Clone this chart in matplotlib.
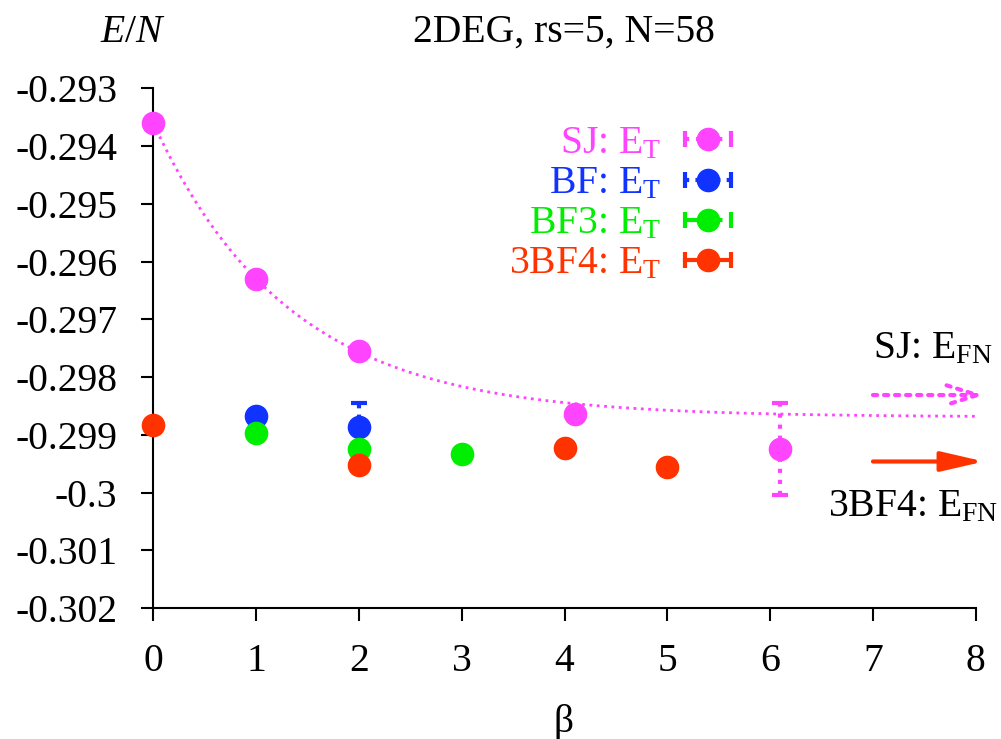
import matplotlib
matplotlib.use('Agg')
import matplotlib.pyplot as plt
import numpy as np
from matplotlib.lines import Line2D
from matplotlib.legend_handler import HandlerTuple, HandlerLine2D

plt.rcParams['font.family'] = ['Liberation Serif', 'DejaVu Serif']
plt.rcParams['mathtext.fontset'] = 'custom'
plt.rcParams['mathtext.rm'] = 'Liberation Serif'
plt.rcParams['mathtext.it'] = 'Liberation Serif:italic'
plt.rcParams['font.size'] = 28.5

# values
sj_beta = [0, 1, 2, 4.1, 6.1]
sj_e = [-0.293606, -0.29630, -0.297545, -0.29864, -0.29924]
sj_err = [0.00001, 0.00001, 0.00002, 0.00003, 0.0008]

bf_beta = [1, 2]
bf_e = [-0.29867, -0.298855]
bf_err = [0.00002, 0.0004]

bf3_beta = [1, 2, 3]
bf3_e = [-0.298969, -0.29924, -0.299327]
bf3_err = [0.00002, 0.00002, 0.00003]

bf4_beta = [0, 2, 4, 5]
bf4_e = [-0.298825, -0.299529, -0.299228, -0.299557]
bf4_err = [0.00002, 0.00002, 0.00002, 0.00002]

# fixed-node energies (arrows)
sj_efn = -0.29831
bf4_efn = -0.29946

# exponential fit of SJ data: a + b*exp(-c*beta)
fit_a, fit_b, fit_c = -0.29869, 0.005084, 0.7548

yticks = [-0.293, -0.294, -0.295, -0.296, -0.297, -0.298, -0.299, -0.300, -0.301, -0.302]
ytick_labels = ['-0.293', '-0.294', '-0.295', '-0.296', '-0.297', '-0.298', '-0.299', '-0.3', '-0.301', '-0.302']
xticks = [0, 1, 2, 3, 4, 5, 6, 7, 8]

c_sj = '#ff44ff'
c_bf = '#1133ff'
c_bf3 = '#00ee00'
c_bf4 = '#ff3300'

fig = plt.figure(figsize=(10.01, 7.39), dpi=100)
ax = fig.add_axes([0.1532, 0.1769, 0.8216, 0.7037])

# fit curve
xf = np.linspace(0, 8, 300)
ax.plot(xf, fit_a + fit_b * np.exp(-fit_c * xf), ':', color=c_sj, lw=2)

series = [
    (sj_beta, sj_e, sj_err, c_sj, ':'),
    (bf_beta, bf_e, bf_err, c_bf, (0, (1, 1.5))),
    (bf3_beta, bf3_e, bf3_err, c_bf3, '--'),
    (bf4_beta, bf4_e, bf4_err, c_bf4, '-'),
]
for xs, ys, es, col, ls in series:
    eb = ax.errorbar(xs, ys, yerr=es, fmt='o', color=col, ms=16, capsize=6,
                     elinewidth=3, capthick=3, zorder=3, clip_on=False)
    eb[2][0].set_linestyle(ls)

# fixed-node arrows
ax.annotate('', xy=(8.08, sj_efn), xytext=(7.0, sj_efn), annotation_clip=False,
            arrowprops=dict(arrowstyle='->,head_length=1.1,head_width=0.35', color=c_sj,
                            lw=3, ls=':', shrinkA=0, shrinkB=0, mutation_scale=20))
ax.annotate('', xy=(8.08, bf4_efn), xytext=(7.0, bf4_efn), annotation_clip=False,
            arrowprops=dict(arrowstyle='-|>,head_length=1.3,head_width=0.3', color=c_bf4,
                            lw=3, shrinkA=0, shrinkB=0, mutation_scale=20))
ax.text(7.0, -0.297666, 'SJ: E$_\\mathrm{FN}$', ha='left', va='baseline', clip_on=False)
ax.text(6.565, -0.300416, '3BF4: E$_\\mathrm{FN}$', ha='left', va='baseline', clip_on=False)

ax.set_xlim(0, 8)
ax.set_ylim(-0.302, -0.293)
ax.set_xticks(xticks)
ax.set_yticks(yticks)
ax.set_yticklabels(ytick_labels)
for s in ['top', 'right']:
    ax.spines[s].set_visible(False)
for s in ['left', 'bottom']:
    ax.spines[s].set_linewidth(1.5)
ax.tick_params(direction='out', length=9, width=1.5)
ax.tick_params(axis='y', pad=17)
ax.tick_params(axis='x', pad=16)

fig.text(564 / 1001, 1 - 42 / 739, '2DEG, rs=5, N=58', ha='center', va='baseline')
fig.text(133 / 1001, 1 - 42 / 739, '$E/N$', ha='center', va='baseline')
fig.text(564 / 1001, 1 - 732 / 739, 'β', ha='center', va='baseline')

# legend
handles = []
hmap = {}
labels = ['SJ: E$_\\mathrm{T}$', 'BF: E$_\\mathrm{T}$', 'BF3: E$_\\mathrm{T}$', '3BF4: E$_\\mathrm{T}$']
for xs, ys, es, col, ls in series:
    bar = Line2D([], [], color=col, ls=ls, lw=3, marker='|', ms=12, mew=3)
    dot = Line2D([], [], color=col, ls='none', marker='o', ms=16)
    hmap[bar] = HandlerLine2D(numpoints=2, marker_pad=0)
    handles.append((bar, dot))
hmap[tuple] = HandlerTuple(ndivide=1)
leg = ax.legend(handles, labels, handler_map=hmap, markerfirst=False, frameon=False,
                loc='center', bbox_to_anchor=(620 / 1001, 1 - 204 / 739),
                bbox_transform=fig.transFigure, handlelength=1.15, handletextpad=0.6,
                labelspacing=0.08, borderpad=0)
for t, (xs, ys, es, col, ls) in zip(leg.get_texts(), series):
    t.set_color(col)

fig.savefig('out.png', dpi=100)
